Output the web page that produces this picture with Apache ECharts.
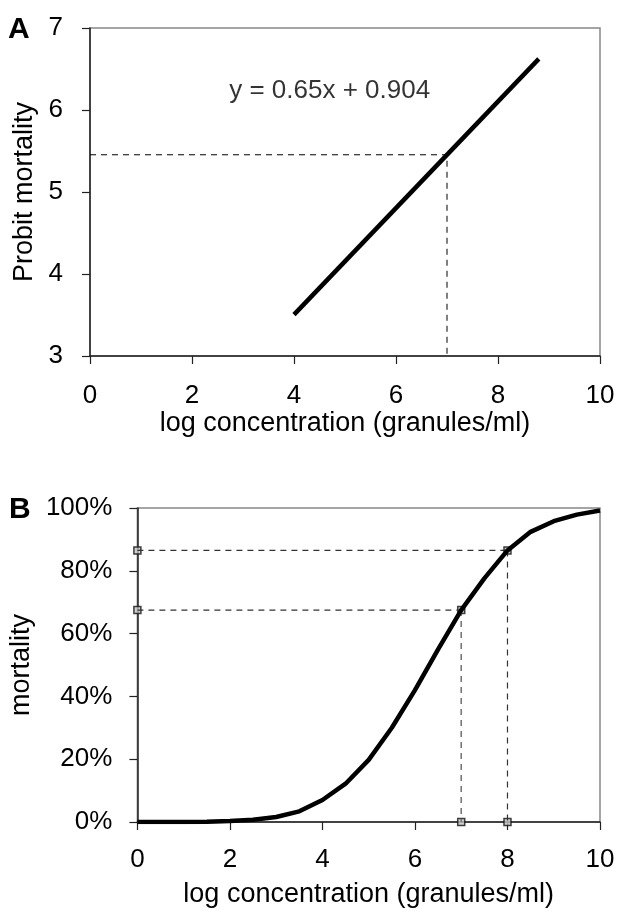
<!DOCTYPE html>
<html>
<head>
<meta charset="utf-8">
<script src="https://cdn.jsdelivr.net/npm/echarts@6/dist/echarts.min.js"></script>
<style>
  html, body { margin: 0; padding: 0; background: #fff; }
  #chart { width: 619px; height: 913px; }
</style>
</head>
<body>
<div id="chart"></div>
<script>
// panel A: probit regression line y = 0.65x + 0.904
var probitX = [4, 8.8];
var probitY = [3.504, 6.624];
var probitEq = 'y = 0.65x + 0.904';
var ld50X = 7;
var ld50Probit = 5.454;

// panel B: mortality curve (%), sampled every 0.5 log unit
var concX = [0, 0.5, 1, 1.5, 2, 2.5, 3, 3.5, 4, 4.5, 5, 5.5, 6, 6.5, 7, 7.5, 8, 8.5, 9, 9.5, 10];
var mortality = [0, 0, 0, 0.1, 0.3, 0.7, 1.6, 3.4, 7, 12.2, 19.8, 30, 42, 55, 67.5, 77.6, 86.5, 92.4, 95.8, 97.9, 99.2];
var readX = [7, 8];
var readY = [67.5, 86.5];

var font = 'Liberation Sans, Arial, sans-serif';

function pairs(xs, ys) {
  return xs.map(function (x, i) { return [x, ys[i]]; });
}

var chart = echarts.init(document.getElementById('chart'));

var axisCommon = {
  axisLine: { show: true, onZero: false, lineStyle: { color: '#222', width: 1.5 } },
  axisTick: { show: true, inside: false, length: 8, lineStyle: { color: '#222', width: 1.2 } },
  splitLine: { show: false },
  axisLabel: { color: '#000', fontSize: 26, fontFamily: font },
  nameTextStyle: { color: '#000', fontSize: 27, fontFamily: font }
};

var markerSeries = [];
readX.forEach(function (x, i) {
  var y = readY[i];
  markerSeries.push({
    type: 'line', xAxisIndex: 1, yAxisIndex: 1, symbol: 'none', silent: true,
    lineStyle: { color: '#333', width: 1.2, type: [6, 5] },
    data: [[0, y], [x, y]]
  });
  markerSeries.push({
    type: 'line', xAxisIndex: 1, yAxisIndex: 1, symbol: 'none', silent: true,
    lineStyle: { color: i === 0 ? '#777' : '#333', width: i === 0 ? 1.6 : 1.2, type: [6, 5] },
    data: [[x, y], [x, 0]]
  });
});

chart.setOption({
  animation: false,
  backgroundColor: '#fff',
  textStyle: { fontFamily: font },
  graphic: [
    { type: 'text', left: 8, top: 15, style: { text: 'A', font: 'bold 30px ' + font, fill: '#000' } },
    { type: 'text', left: 9, top: 495, style: { text: 'B', font: 'bold 30px ' + font, fill: '#000' } }
  ],
  grid: [
    { left: 90, top: 28, width: 510, height: 328, show: true, borderColor: '#888', borderWidth: 1.5, backgroundColor: 'transparent' },
    { left: 132, top: 508, width: 468, height: 314, show: true, borderColor: '#888', borderWidth: 1.5, backgroundColor: 'transparent' }
  ],
  xAxis: [
    Object.assign({}, axisCommon, {
      gridIndex: 0, type: 'value', min: 0, max: 10, interval: 2,
      name: 'log concentration (granules/ml)', nameLocation: 'middle', nameGap: 45,
      axisLabel: Object.assign({}, axisCommon.axisLabel, { margin: 27 })
    }),
    Object.assign({}, axisCommon, {
      gridIndex: 1, type: 'value', min: 0, max: 10, interval: 2,
      name: 'log concentration (granules/ml)', nameLocation: 'middle', nameGap: 59,
      axisLabel: Object.assign({}, axisCommon.axisLabel, { margin: 25 })
    })
  ],
  yAxis: [
    Object.assign({}, axisCommon, {
      gridIndex: 0, type: 'value', min: 3, max: 7, interval: 1,
      name: 'Probit mortality', nameLocation: 'middle', nameGap: 48,
      axisLabel: Object.assign({}, axisCommon.axisLabel, { margin: 27 })
    }),
    Object.assign({}, axisCommon, {
      gridIndex: 1, type: 'value', min: 0, max: 100, interval: 20,
      name: 'mortality', nameLocation: 'middle', nameGap: 85,
      axisLabel: Object.assign({}, axisCommon.axisLabel, { margin: 25, formatter: '{value}%' })
    })
  ],
  series: [
    {
      type: 'line', xAxisIndex: 0, yAxisIndex: 0, symbol: 'none', silent: true,
      data: [[0, ld50Probit], [ld50X, ld50Probit], [ld50X, 3]],
      lineStyle: { color: '#000', width: 1, type: [6, 5] }
    },
    {
      type: 'line', xAxisIndex: 0, yAxisIndex: 0, symbol: 'none', silent: true,
      lineStyle: { color: '#000', width: 4.5 },
      data: pairs(probitX, probitY)
    },
    {
      type: 'scatter', xAxisIndex: 0, yAxisIndex: 0, symbolSize: 0, silent: true,
      data: [[4.7, 6.23]],
      label: { show: true, position: 'inside', formatter: probitEq, color: '#000', fontSize: 26, fontFamily: font }
    }
  ].concat(markerSeries).concat([
    {
      type: 'line', xAxisIndex: 1, yAxisIndex: 1, symbol: 'none', silent: true,
      lineStyle: { color: '#000', width: 4.5 },
      data: pairs(concX, mortality)
    },
    {
      type: 'scatter', xAxisIndex: 1, yAxisIndex: 1, symbol: 'rect', symbolSize: 7, silent: true,
      itemStyle: { color: '#c4c4c4', borderColor: '#111', borderWidth: 1.5 },
      data: [[0, readY[0]], [0, readY[1]], [readX[0], readY[0]], [readX[1], readY[1]], [readX[0], 0], [readX[1], 0]]
    }
  ])
});
</script>
</body>
</html>
